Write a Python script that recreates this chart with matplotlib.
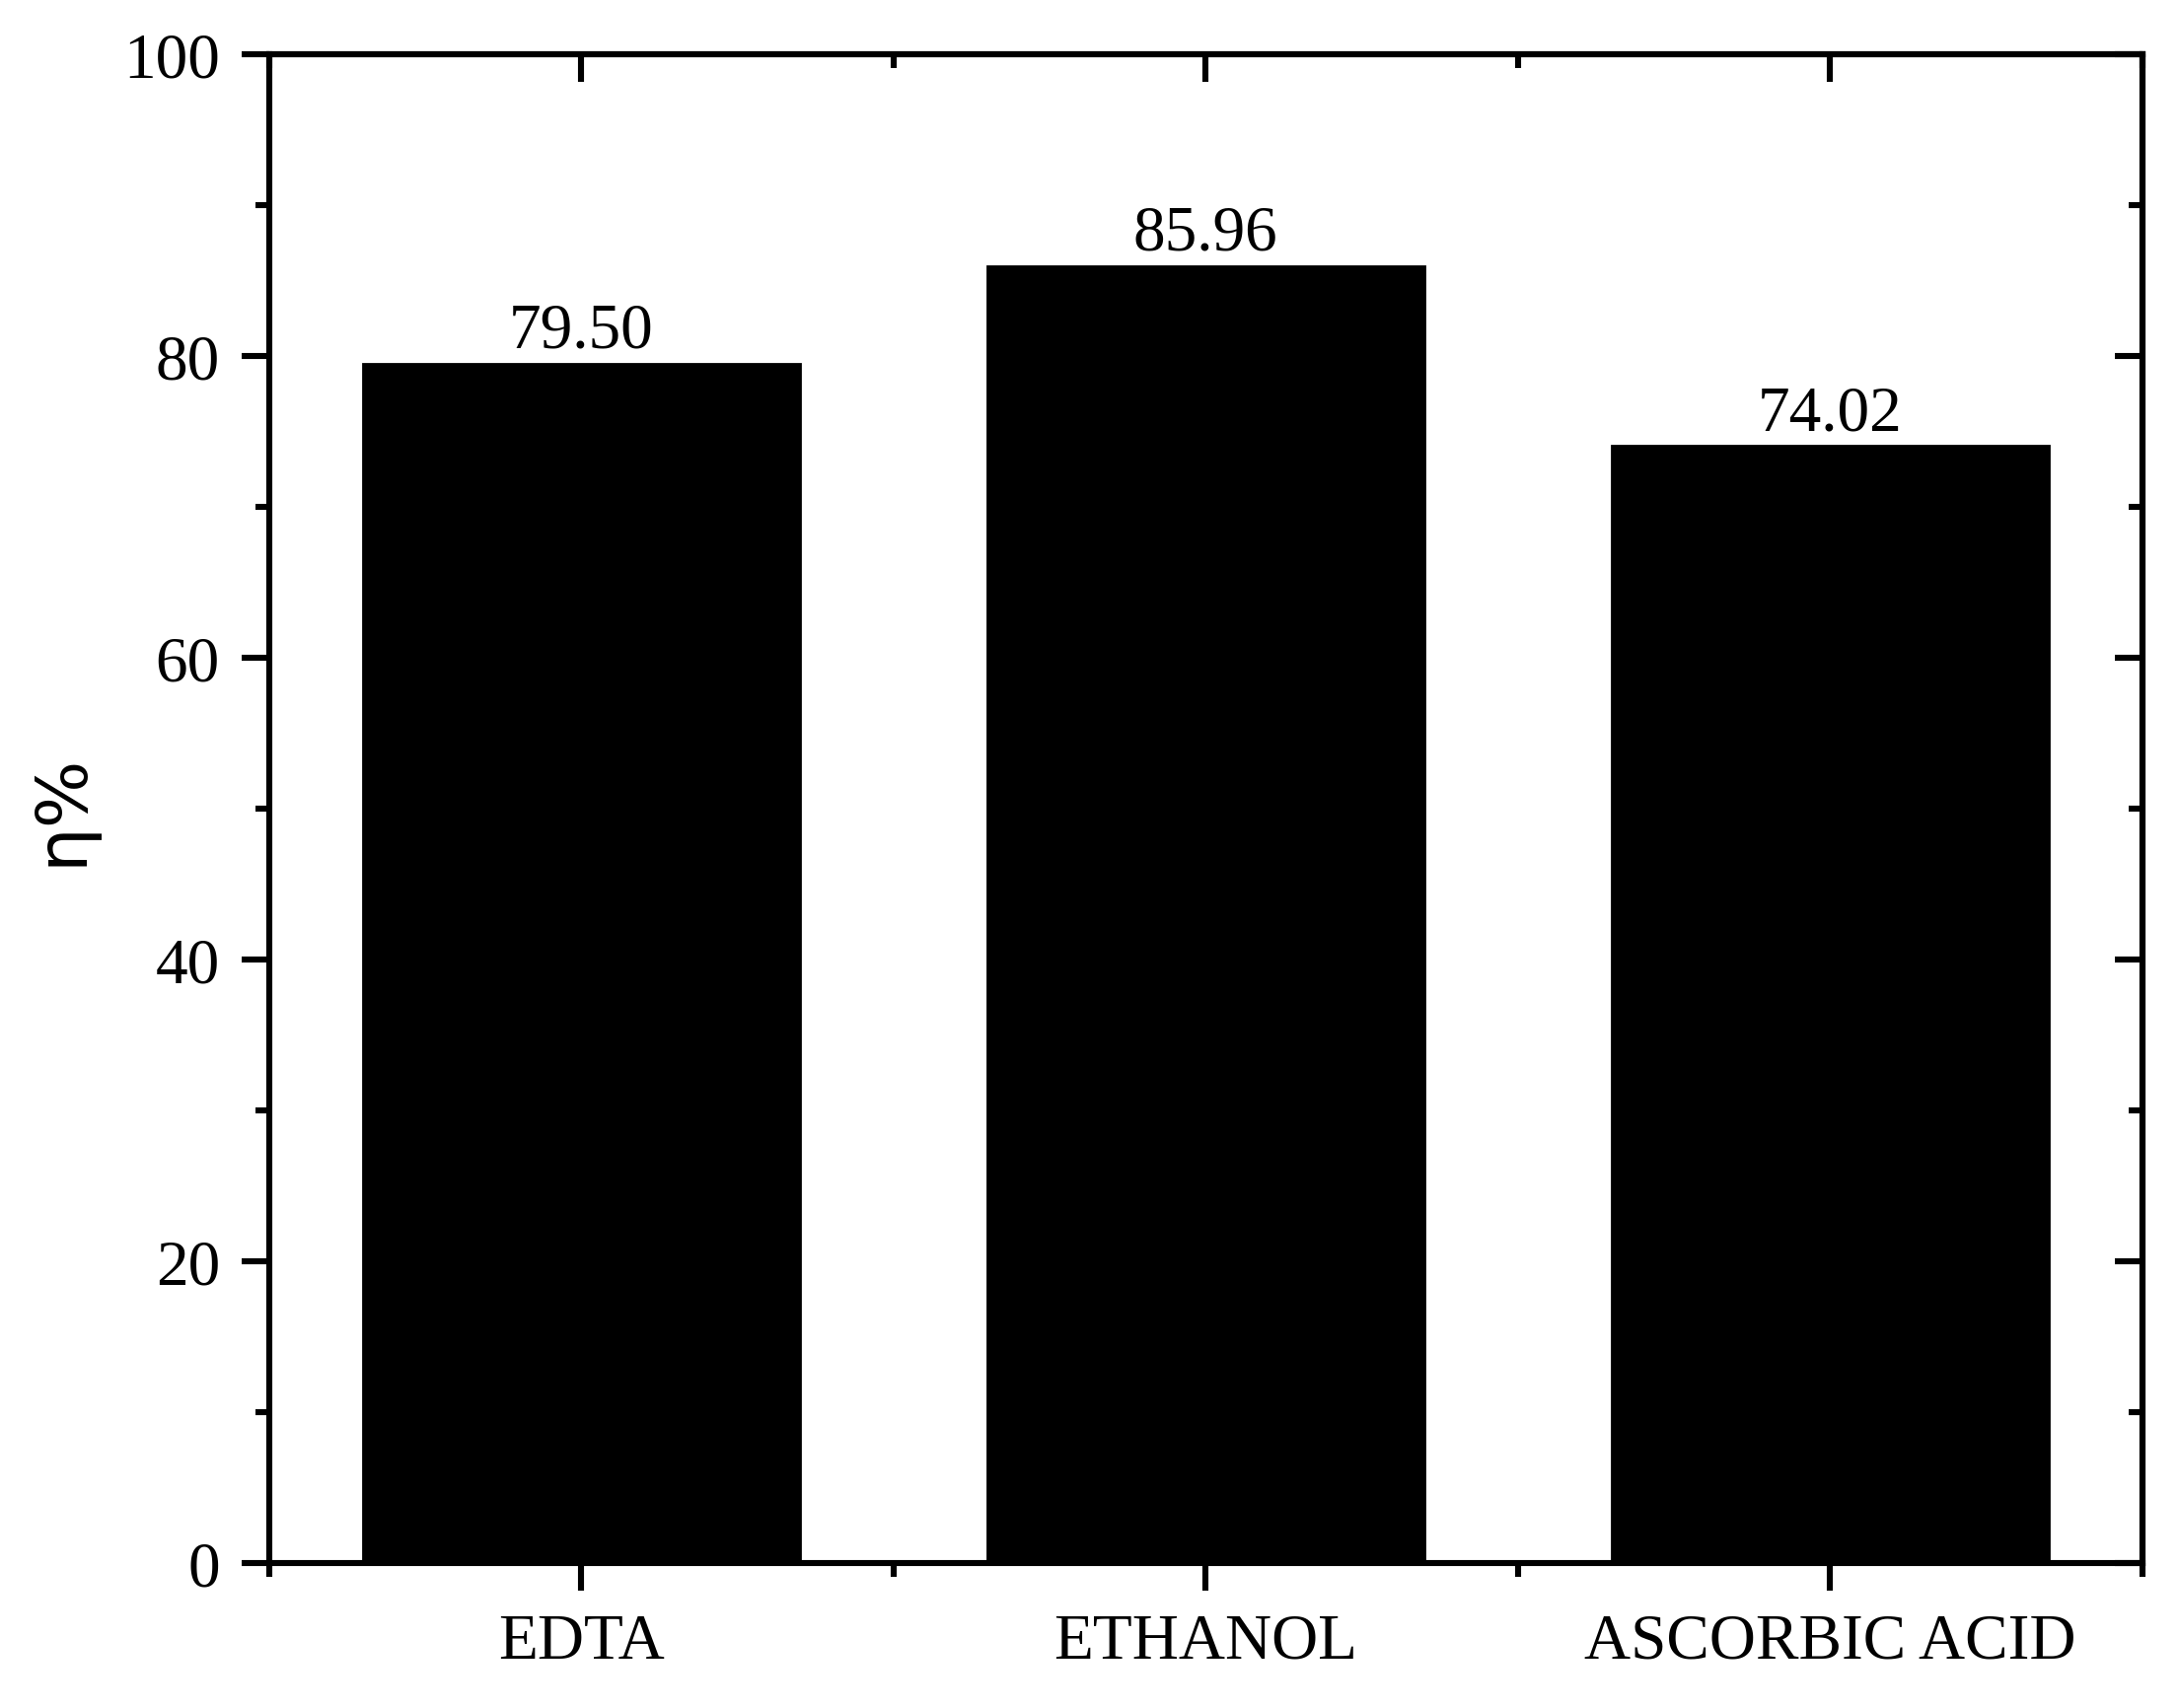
import matplotlib
matplotlib.use("Agg")
import matplotlib.pyplot as plt
from matplotlib.ticker import MultipleLocator, FixedLocator

# data
categories = ["EDTA", "ETHANOL", "ASCORBIC ACID"]
efficiency = [79.50, 85.96, 74.02]
value_labels = ["79.50", "85.96", "74.02"]

plt.rcParams['font.family'] = ['Liberation Serif', 'DejaVu Serif']

fig = plt.figure(figsize=(11.04, 8.665), dpi=200)
ax = fig.add_axes([0.1236, 0.0848, 0.860, 0.8829])

pos = list(range(1, len(categories) + 1))
bars = ax.bar(pos, efficiency, width=0.7, color='black', edgecolor='black', zorder=2)

for b, lab in zip(bars, value_labels):
    ax.text(b.get_x() + b.get_width() / 2, b.get_height() + 0.2, lab,
            ha='center', va='bottom', fontsize=23.5)

ax.set_xlim(0.5, len(categories) + 0.5)
ax.set_ylim(0, 100)

ax.set_xticks(pos)
ax.set_xticklabels(categories)
ax.xaxis.set_minor_locator(FixedLocator([p - 0.5 for p in pos] + [pos[-1] + 0.5]))
ax.yaxis.set_major_locator(MultipleLocator(20))
ax.yaxis.set_minor_locator(MultipleLocator(10))

for s in ax.spines.values():
    s.set_linewidth(2.2)

ax.tick_params(which='both', direction='out', width=2.2, labelsize=23.5)
ax.tick_params(which='major', length=10, pad=8)
ax.tick_params(which='minor', length=5)
# inward ticks on top and right
axt = ax.secondary_xaxis('top')
axt.set_xticks(pos)
axt.xaxis.set_minor_locator(FixedLocator([p - 0.5 for p in pos] + [pos[-1] + 0.5]))
axt.tick_params(which='both', direction='in', width=2.2, labeltop=False)
axt.tick_params(which='major', length=10)
axt.tick_params(which='minor', length=5)
axt.spines['top'].set_linewidth(2.2)

axr = ax.secondary_yaxis('right')
axr.yaxis.set_major_locator(MultipleLocator(20))
axr.yaxis.set_minor_locator(MultipleLocator(10))
axr.tick_params(which='both', direction='in', width=2.2, labelright=False)
axr.tick_params(which='major', length=10)
axr.tick_params(which='minor', length=5)
axr.spines['right'].set_linewidth(2.2)

ax.set_ylabel("η%", fontsize=26, family=['DejaVu Sans'], labelpad=10)

fig.savefig("out.png", dpi=200)
